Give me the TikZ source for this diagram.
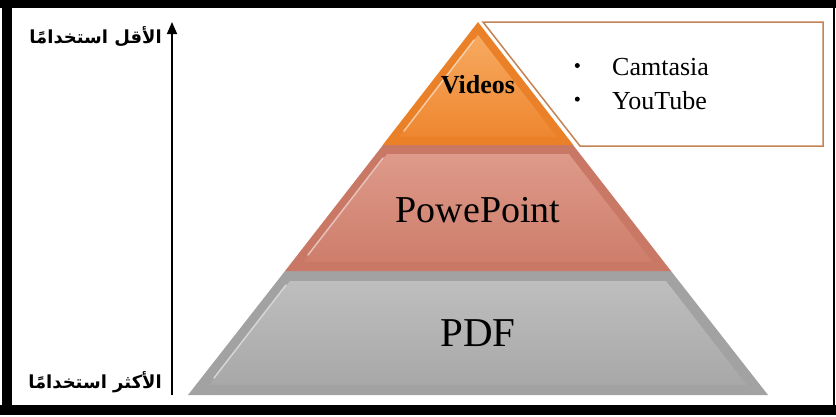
\documentclass[tikz,border=0pt]{standalone}
\usepackage{fontspec}
\setmainfont{Liberation Serif}
\newfontfamily\arabicfont[Script=Arabic]{DejaVu Sans}
\TeXXeTstate=1
\usetikzlibrary{positioning,arrows.meta}

\definecolor{vidout}{HTML}{EA8028}
\definecolor{vidtop}{HTML}{F7AA60}
\definecolor{vidbot}{HTML}{EE8630}
\definecolor{pptout}{HTML}{CA7866}
\definecolor{ppttop}{HTML}{DE9A8A}
\definecolor{pptbot}{HTML}{CE7D6B}
\definecolor{pdfout}{HTML}{A2A2A2}
\definecolor{pdftop}{HTML}{BEBEBE}
\definecolor{pdfbot}{HTML}{A8A8A8}
\definecolor{boxline}{HTML}{C48355}

\tikzset{
  layerlabel/.style={inner sep=0pt, text=black},
  usage/.style={inner sep=0pt, font=\arabicfont\bfseries\fontsize{18}{21}\selectfont},
  bevel/.style={draw=white, draw opacity=.55, line width=1.5pt, line cap=round},
  toolitem/.style={anchor=base west, font=\fontsize{26}{30}\selectfont, inner sep=0pt},
  dot/.style={circle, fill=black, inner sep=0pt, minimum size=5pt},
}

\begin{document}
\begin{tikzpicture}[x=1pt, y=-1pt]
	\useasboundingbox (0,0) rectangle (836,416);

	% frame
	\fill[black] (0,0) rectangle (836,8);
	\fill[black] (2,0) rectangle (12,415);
	\fill[black] (0,405) rectangle (836,415);
	\fill[black] (833,0) rectangle (835,415);

	% pyramid: PDF
	\fill[pdfout] (285,271) -- (671,271) -- (768,395) -- (188,395) -- cycle;
	\shade[top color=pdftop, bottom color=pdfbot]
		(290,281) -- (666,281) -- (746.7,385) -- (209.3,385) -- cycle;
	\draw[bevel] (286,285) -- (214,378);

	% pyramid: PowePoint
	\fill[pptout] (383,145) -- (573,145) -- (671,271) -- (285,271) -- cycle;
	\shade[top color=ppttop, bottom color=pptbot]
		(387.1,154) -- (568.9,154) -- (652.6,262) -- (303.4,262) -- cycle;
	\draw[bevel] (383,158) -- (308,255);

	% pyramid: Videos
	\fill[vidout] (478,22) -- (573.3,145) -- (382.7,145) -- cycle;
	\shade[top color=vidtop, bottom color=vidbot]
		(478,35) -- (557,137) -- (399,137) -- cycle;
	\draw[bevel] (474,40) -- (404,131);

	\node[layerlabel, font=\bfseries\fontsize{26}{30}\selectfont] (videos) at (478,85) {Videos};
	\node[layerlabel, font=\fontsize{38}{44}\selectfont] (ppt) at (478,210) {PowePoint};
	\node[layerlabel, font=\fontsize{41}{46}\selectfont] (pdf) at (478,333) {PDF};

	% tools box
	\draw[boxline, line width=1.5pt, line join=miter]
		(483,22) -- (823,22) -- (823,146) -- (580,146) -- cycle;
	\node[toolitem] (camtasia) at (612,75) {Camtasia};
	\node[toolitem] (youtube) at (612,109) {YouTube};
	\node[dot, left=32pt of camtasia.west, yshift=1pt] (dotcam) {};
	\node[dot, left=32pt of youtube.west, yshift=1pt] (dotyou) {};

	% usage axis
	\coordinate (most) at (172,395);
	\coordinate (least) at (172,22);
	\draw[-{Triangle[length=12pt, width=10pt]}, line width=1.6pt] (most) -- (least);

	\node[usage, anchor=east] (leastlbl) at (162,37) {\beginR الأقل استخدامًا\endR};
	\node[usage, anchor=east] (mostlbl) at (162,382) {\beginR الأكثر استخدامًا\endR};

\end{tikzpicture}
\end{document}
